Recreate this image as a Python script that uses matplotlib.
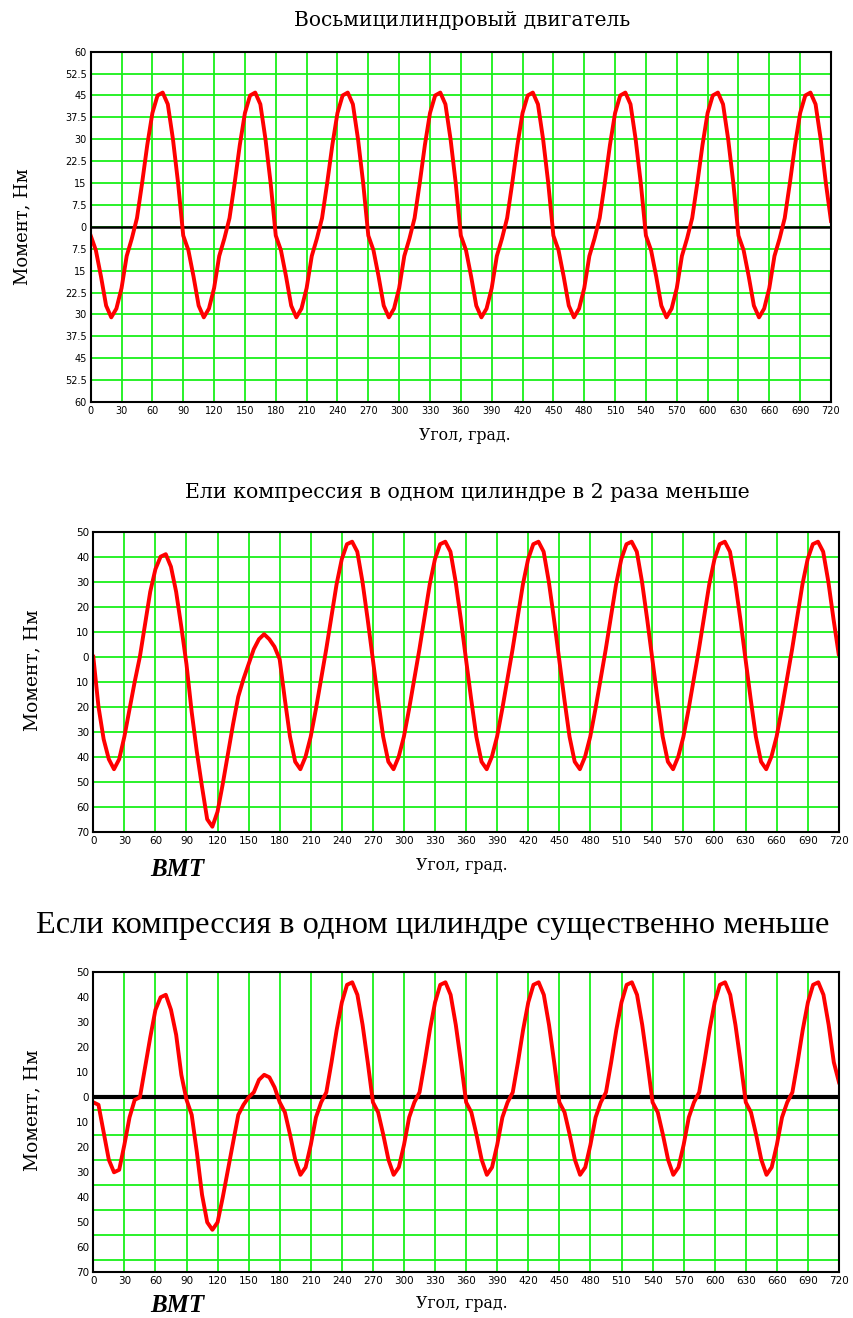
import matplotlib
matplotlib.use("Agg")
import matplotlib.pyplot as plt

# углы поворота коленвала, град (шаг 5)
angle = list(range(0, 725, 5))

# восьмицилиндровый двигатель, момент по периодам 90 град
torque_normal = (
    [-3, -8, -17, -27, -31, -28, -21, -10, -4, 3, 15, 28, 39, 45, 46, 42, 30, 15] +
    [-3, -8, -17, -27, -31, -28, -21, -10, -4, 3, 15, 28, 39, 45, 46, 42, 30, 15] +
    [-3, -8, -17, -27, -31, -28, -21, -10, -4, 3, 15, 28, 39, 45, 46, 42, 30, 15] +
    [-3, -8, -17, -27, -31, -28, -21, -10, -4, 3, 15, 28, 39, 45, 46, 42, 30, 15] +
    [-3, -8, -17, -27, -31, -28, -21, -10, -4, 3, 15, 28, 39, 45, 46, 42, 30, 15] +
    [-3, -8, -17, -27, -31, -28, -21, -10, -4, 3, 15, 28, 39, 45, 46, 42, 30, 15] +
    [-3, -8, -17, -27, -31, -28, -21, -10, -4, 3, 15, 28, 39, 45, 46, 42, 30, 15] +
    [-3, -8, -17, -27, -31, -28, -21, -10, -4, 3, 15, 28, 39, 45, 46, 42, 30, 15] +
    [2]
)

# компрессия в одном цилиндре в 2 раза меньше
torque_half = (
    [0, -20, -33, -41, -45, -41, -32, -21, -10, 0, 13, 26, 35, 40, 41, 36, 26, 12] +
    [-3, -22, -38, -52, -65, -68, -62, -51, -39, -27, -16, -9, -3, 3, 7, 9, 7, 4] +
    [-1, -17, -32, -42, -45, -40, -32, -21, -9, 3, 16, 29, 39, 45, 46, 42, 30, 15] +
    [-1, -17, -32, -42, -45, -40, -32, -21, -9, 3, 16, 29, 39, 45, 46, 42, 30, 15] +
    [-1, -17, -32, -42, -45, -40, -32, -21, -9, 3, 16, 29, 39, 45, 46, 42, 30, 15] +
    [-1, -17, -32, -42, -45, -40, -32, -21, -9, 3, 16, 29, 39, 45, 46, 42, 30, 15] +
    [-1, -17, -32, -42, -45, -40, -32, -21, -9, 3, 16, 29, 39, 45, 46, 42, 30, 15] +
    [-1, -17, -32, -42, -45, -40, -32, -21, -9, 3, 16, 29, 39, 45, 46, 42, 30, 15] +
    [1]
)

# компрессия в одном цилиндре существенно меньше
torque_low = (
    [-2, -3, -14, -25, -30, -29, -19, -8, -1, 0, 12, 24, 35, 40, 41, 35, 25, 9] +
    [-1, -7, -22, -39, -50, -53, -50, -40, -29, -18, -7, -3, 0, 2, 7, 9, 8, 4] +
    [-2, -6, -15, -25, -31, -28, -19, -8, -2, 2, 14, 27, 38, 45, 46, 41, 29, 14] +
    [-2, -6, -15, -25, -31, -28, -19, -8, -2, 2, 14, 27, 38, 45, 46, 41, 29, 14] +
    [-2, -6, -15, -25, -31, -28, -19, -8, -2, 2, 14, 27, 38, 45, 46, 41, 29, 14] +
    [-2, -6, -15, -25, -31, -28, -19, -8, -2, 2, 14, 27, 38, 45, 46, 41, 29, 14] +
    [-2, -6, -15, -25, -31, -28, -19, -8, -2, 2, 14, 27, 38, 45, 46, 41, 29, 14] +
    [-2, -6, -15, -25, -31, -28, -19, -8, -2, 2, 14, 27, 38, 45, 46, 41, 29, 14] +
    [6]
)

x_ticks = list(range(0, 750, 30))
y_ticks_1 = [60, 52.5, 45, 37.5, 30, 22.5, 15, 7.5, 0, -7.5, -15, -22.5, -30, -37.5, -45, -52.5, -60]
y_ticks_2 = [50, 40, 30, 20, 10, 0, -10, -20, -30, -40, -50, -60, -70]
y_grid_3 = [50, 40, 30, 20, 10, 0, -5, -15, -25, -35, -45, -55, -65]

titles = ["Восьмицилиндровый двигатель",
          "Ели компрессия в одном цилиндре в 2 раза меньше",
          "Если компрессия в одном цилиндре существенно меньше"]

W, H = 854, 1318
GREEN = "#19f019"
RED = "#ff0000"


def fx(px):
    return px / W


def fy(py):
    return 1 - py / H


def tick_label(v):
    v = abs(v)
    return f"{v:g}"


def setup_axes(ax, y_ticks, ylim, tick_font):
    ax.set_xlim(0, 720)
    ax.set_ylim(*ylim)
    ax.set_xticks(x_ticks)
    ax.set_yticks(y_ticks)
    ax.set_xticklabels([str(t) for t in x_ticks], **tick_font)
    ax.set_yticklabels([tick_label(t) for t in y_ticks], **tick_font)
    ax.tick_params(length=0, pad=3)
    ax.grid(True, color=GREEN, linewidth=1.3)
    ax.set_axisbelow(True)
    for side in ax.spines.values():
        side.set_color("black")
        side.set_linewidth(1.5)
        side.set_zorder(5)


fig = plt.figure(figsize=(W / 100, H / 100), dpi=100)

# ---- панель 1
ax1 = fig.add_axes([fx(90.7), fy(402), fx(831 - 90.7), (402 - 51.7) / H])
setup_axes(ax1, y_ticks_1, (-60, 60), dict(family="DejaVu Sans", fontsize=7))
ax1.axhline(0, color="black", linewidth=1.8, zorder=2)
ax1.plot(angle, torque_normal, color=RED, linewidth=2.8, zorder=3)
fig.text(fx(462), fy(20), titles[0], family="DejaVu Serif", fontsize=14.5,
         ha="center", va="center")
fig.text(fx(22), fy(227), "Момент, Нм", family="DejaVu Serif", fontsize=13,
         rotation=90, ha="center", va="center")
fig.text(fx(465), fy(435), "Угол, град.", family="DejaVu Serif", fontsize=11.3,
         ha="center", va="center")

# ---- панель 2
ax2 = fig.add_axes([fx(93.3), fy(831.7), fx(838.7 - 93.3), 300 / H])
setup_axes(ax2, y_ticks_2, (-70, 50), dict(family="DejaVu Sans", fontsize=7.5))
ax2.plot(angle, torque_half, color=RED, linewidth=2.8, zorder=3)
fig.text(fx(467), fy(492), titles[1], family="DejaVu Serif", fontsize=14.8,
         ha="center", va="center")
fig.text(fx(32), fy(670), "Момент, Нм", family="DejaVu Serif", fontsize=13.5,
         rotation=90, ha="center", va="center")
fig.text(fx(462), fy(865), "Угол, град.", family="DejaVu Serif", fontsize=11.3,
         ha="center", va="center")
fig.text(fx(177), fy(869), "ВМТ", family="Liberation Serif", fontsize=18,
         weight="bold", style="italic", ha="center", va="center")

# ---- панель 3
ax3 = fig.add_axes([fx(93.3), fy(1272.3), fx(839 - 93.3), 300 / H])
setup_axes(ax3, y_ticks_2, (-70, 50), dict(family="DejaVu Sans", fontsize=7.5))
ax3.yaxis.grid(False)
ax3.set_yticks(y_grid_3, minor=True)
ax3.tick_params(which="minor", length=0)
ax3.grid(True, which="minor", axis="y", color=GREEN, linewidth=1.3)
ax3.axhline(0, color="black", linewidth=3, zorder=2)
ax3.plot(angle, torque_low, color=RED, linewidth=2.8, zorder=3)
fig.text(fx(433), fy(925), titles[2], family="Liberation Serif", fontsize=23.3,
         ha="center", va="center")
fig.text(fx(32), fy(1110), "Момент, Нм", family="DejaVu Serif", fontsize=13.5,
         rotation=90, ha="center", va="center")
fig.text(fx(462), fy(1304), "Угол, град.", family="DejaVu Serif", fontsize=11.3,
         ha="center", va="center")
fig.text(fx(177), fy(1305), "ВМТ", family="Liberation Serif", fontsize=18,
         weight="bold", style="italic", ha="center", va="center")

fig.savefig("out.png", dpi=100)
